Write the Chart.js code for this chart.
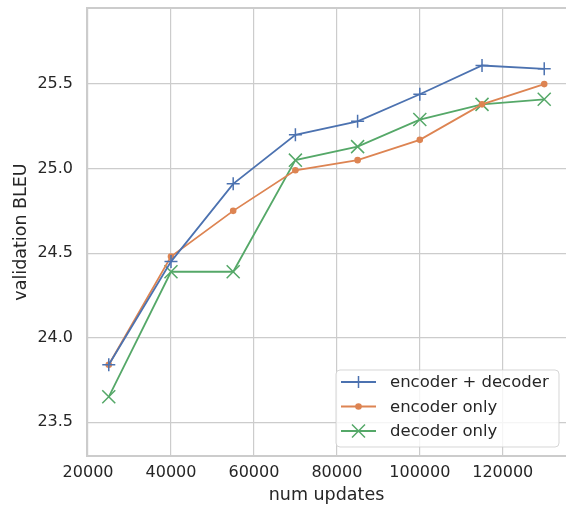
<!DOCTYPE html>
<html>
<head>
<meta charset="utf-8">
<script src="https://cdn.jsdelivr.net/npm/chart.js@4/dist/chart.umd.min.js"></script>
<style>
  html, body { margin: 0; padding: 0; background: #fff; }
  #wrap { width: 566px; height: 507px; }
</style>
</head>
<body>
<div id="wrap"><canvas id="bleuChart" width="566" height="507"></canvas></div>
<script>
// ====== DATA ======
const numUpdates = [25000, 40000, 55000, 70000, 85000, 100000, 115000, 130000];
const encDec  = [23.84, 24.45, 24.91, 25.20, 25.28, 25.44, 25.61, 25.59];
const encOnly = [23.84, 24.48, 24.75, 24.99, 25.05, 25.17, 25.38, 25.50];
const decOnly = [23.65, 24.39, 24.39, 25.05, 25.13, 25.29, 25.38, 25.41];
const seriesNames = ['encoder + decoder', 'encoder only', 'decoder only'];
const xTicks = [20000, 40000, 60000, 80000, 100000, 120000];
const yTicks = [23.5, 24.0, 24.5, 25.0, 25.5];

const FONT = "'DejaVu Sans', sans-serif";
const TEXT = '#262626';
const GRID = '#cccccc';

// no extra padding from tick labels, chart area is fixed by hand
function noPad(scale) {
    scale.paddingLeft = 0;
    scale.paddingRight = 0;
    scale.paddingTop = 0;
    scale.paddingBottom = 0;
}

// ====== FRAME + LEGEND (matplotlib style) ======
const framePlugin = {
    id: 'frame',
    beforeDatasetsDraw(chart) {
        const a = chart.chartArea;
        const ctx = chart.ctx;
        ctx.save();
        ctx.strokeStyle = GRID;
        ctx.lineWidth = 2;
        ctx.strokeRect(a.left, a.top, a.right - a.left + 2, a.bottom - a.top);
        ctx.restore();
    }
};

function drawMarker(ctx, style, x, y, color) {
    ctx.strokeStyle = color;
    ctx.fillStyle = color;
    ctx.lineWidth = 1.5;
    ctx.beginPath();
    if (style === 'cross') {
        ctx.moveTo(x - 6, y); ctx.lineTo(x + 6, y);
        ctx.moveTo(x, y - 6); ctx.lineTo(x, y + 6);
        ctx.stroke();
    } else if (style === 'crossRot') {
        const d = 6.5;
        ctx.moveTo(x - d, y - d); ctx.lineTo(x + d, y + d);
        ctx.moveTo(x - d, y + d); ctx.lineTo(x + d, y - d);
        ctx.stroke();
    } else {
        ctx.arc(x, y, 3.3, 0, Math.PI * 2);
        ctx.fill();
    }
}

const legendPlugin = {
    id: 'innerLegend',
    afterDraw(chart) {
        const a = chart.chartArea;
        const ctx = chart.ctx;
        const x0 = a.left + 249, y0 = a.top + 362, w = 223, h = 77;
        ctx.save();
        ctx.beginPath();
        ctx.roundRect(x0, y0, w, h, 4);
        ctx.fillStyle = 'rgba(255,255,255,0.8)';
        ctx.fill();
        ctx.strokeStyle = 'rgba(204,204,204,0.8)';
        ctx.lineWidth = 1;
        ctx.stroke();
        ctx.font = '16.5px ' + FONT;
        ctx.textBaseline = 'middle';
        chart.data.datasets.forEach((ds, i) => {
            const y = y0 + 12 + i * 24.5;
            ctx.strokeStyle = ds.borderColor;
            ctx.lineWidth = 1.8;
            ctx.beginPath();
            ctx.moveTo(x0 + 5, y); ctx.lineTo(x0 + 40, y);
            ctx.stroke();
            drawMarker(ctx, ds.pointStyle, x0 + 22.5, y, ds.borderColor);
            ctx.fillStyle = TEXT;
            ctx.fillText(ds.label, x0 + 54, y + 1);
        });
        ctx.restore();
    }
};

// ====== CHART ======
const ctx = document.getElementById('bleuChart').getContext('2d');
const chart = new Chart(ctx, {
    type: 'line',
    data: {
        labels: numUpdates,
        datasets: [{
            label: seriesNames[0],
            data: numUpdates.map((x, i) => ({ x: x, y: encDec[i] })),
            borderColor: '#4c72b0',
            backgroundColor: '#4c72b0',
            pointStyle: 'cross',
            pointRadius: 6.5,
            pointHoverRadius: 6.5,
            pointBorderWidth: 1.5,
            borderWidth: 1.8,
            fill: false
        }, {
            label: seriesNames[1],
            data: numUpdates.map((x, i) => ({ x: x, y: encOnly[i] })),
            borderColor: '#dd8452',
            backgroundColor: '#dd8452',
            pointStyle: 'circle',
            pointRadius: 3.3,
            pointHoverRadius: 3.3,
            pointBorderWidth: 0,
            borderWidth: 1.8,
            fill: false
        }, {
            label: seriesNames[2],
            data: numUpdates.map((x, i) => ({ x: x, y: decOnly[i] })),
            borderColor: '#55a868',
            backgroundColor: '#55a868',
            pointStyle: 'crossRot',
            pointRadius: 9.2,
            pointHoverRadius: 9.2,
            pointBorderWidth: 1.5,
            borderWidth: 1.8,
            fill: false
        }]
    },
    options: {
        responsive: false,
        animation: false,
        layout: { autoPadding: false, padding: { top: 8, right: 0, left: 0, bottom: 0 } },
        plugins: {
            legend: { display: false },
            tooltip: { enabled: false }
        },
        scales: {
            x: {
                type: 'linear',
                min: 19750,
                max: 135250,
                afterBuildTicks: axis => { axis.ticks = xTicks.map(v => ({ value: v })); },
                afterFit: scale => { scale.height = 51; noPad(scale); },
                grid: { color: GRID, lineWidth: 1.2, drawTicks: false },
                border: { display: false },
                ticks: {
                    padding: 7,
                    color: TEXT,
                    font: { family: FONT, size: 16 },
                    maxRotation: 0,
                    callback: v => String(v)
                },
                title: {
                    display: true,
                    text: 'num updates',
                    color: TEXT,
                    font: { family: FONT, size: 17.5 },
                    padding: { top: 0, bottom: 1 }
                }
            },
            y: {
                min: 23.3,
                max: 25.95,
                afterBuildTicks: axis => { axis.ticks = yTicks.map(v => ({ value: v })); },
                afterFit: scale => { scale.width = 87; noPad(scale); },
                grid: { color: GRID, lineWidth: 1.2, drawTicks: false },
                border: { display: false },
                ticks: {
                    padding: 14,
                    color: TEXT,
                    font: { family: FONT, size: 16 },
                    callback: v => v.toFixed(1)
                },
                title: {
                    display: true,
                    text: 'validation BLEU',
                    color: TEXT,
                    font: { family: FONT, size: 17.5 },
                    padding: { top: 11, bottom: 0 }
                }
            }
        }
    },
    plugins: [framePlugin, legendPlugin]
});
</script>
</body>
</html>
